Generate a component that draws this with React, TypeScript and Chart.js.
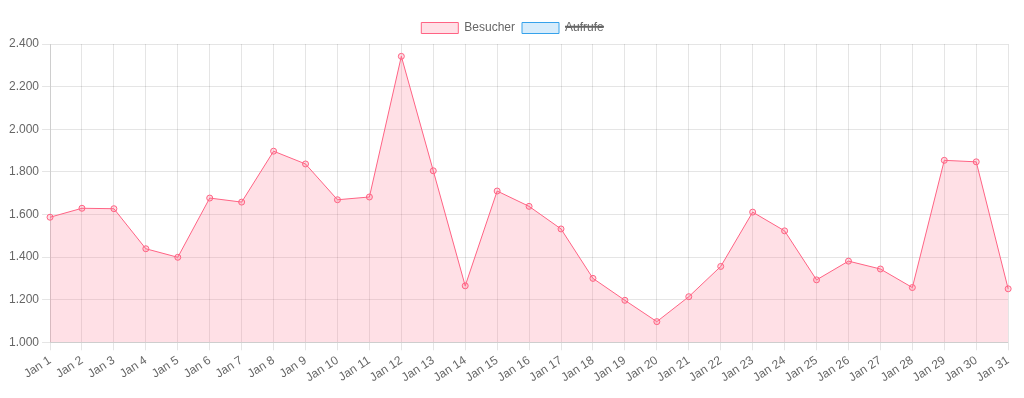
import React, { useEffect, useRef } from "react";
import { Chart, registerables } from "chart.js";

Chart.register(...registerables);

const labels: string[] = [
  "Jan 1", "Jan 2", "Jan 3", "Jan 4", "Jan 5", "Jan 6", "Jan 7", "Jan 8", "Jan 9", "Jan 10",
  "Jan 11", "Jan 12", "Jan 13", "Jan 14", "Jan 15", "Jan 16", "Jan 17", "Jan 18", "Jan 19", "Jan 20",
  "Jan 21", "Jan 22", "Jan 23", "Jan 24", "Jan 25", "Jan 26", "Jan 27", "Jan 28", "Jan 29", "Jan 30", "Jan 31",
];

const besucher: number[] = [
  1587, 1629, 1627, 1439, 1399, 1677, 1658, 1897, 1837, 1669,
  1682, 2342, 1805, 1265, 1710, 1638, 1532, 1300, 1197, 1097,
  1214, 1356, 1611, 1523, 1293, 1381, 1344, 1257, 1854, 1847, 1251,
];

const aufrufe: number[] = [
  3120, 3260, 3180, 2890, 2750, 3310, 3240, 3790, 3620, 3300,
  3350, 4680, 3560, 2510, 3400, 3250, 3040, 2580, 2380, 2170,
  2410, 2690, 3200, 3010, 2560, 2740, 2660, 2490, 3700, 3680, 2480,
];

export default function App() {
  const ref = useRef<HTMLCanvasElement | null>(null);

  useEffect(() => {
    if (!ref.current) return;
    Chart.defaults.font.family = "'Liberation Sans', Arial, Helvetica, sans-serif";
    Chart.defaults.font.size = 12;
    Chart.defaults.color = "#666";
    const chart = new Chart(ref.current, {
      type: "line",
      data: {
        labels,
        datasets: [
          {
            label: "Besucher",
            data: besucher,
            borderColor: "rgb(255, 99, 132)",
            backgroundColor: "rgba(255, 99, 132, 0.2)",
            pointBackgroundColor: "rgba(255, 99, 132, 0.2)",
            pointBorderColor: "rgb(255, 99, 132)",
            borderWidth: 1,
            pointRadius: 3,
            fill: true,
            tension: 0,
          },
          {
            label: "Aufrufe",
            data: aufrufe,
            borderColor: "rgb(54, 162, 235)",
            backgroundColor: "rgba(54, 162, 235, 0.2)",
            borderWidth: 1,
            pointRadius: 3,
            fill: true,
            tension: 0,
            hidden: true,
          },
        ],
      },
      options: {
        animation: false,
        responsive: true,
        maintainAspectRatio: false,
        locale: "de-DE",
        layout: { padding: { top: 7 } },
        plugins: {
          legend: {
            position: "top",
            labels: { boxWidth: 37, boxHeight: 11, padding: 7, font: { size: 12 } },
          },
          tooltip: { enabled: false },
        },
        scales: {
          x: {
            grid: { color: "rgba(0,0,0,0.1)" },
            ticks: { maxRotation: 33, minRotation: 33 },
          },
          y: {
            grid: { color: "rgba(0,0,0,0.1)" },
            ticks: { stepSize: 200 },
          },
        },
      },
    });
    return () => chart.destroy();
  }, []);

  return (
    <div style={{ position: "relative", width: "1013px", marginLeft: "-2px", height: "380px" }}>
      <canvas ref={ref} />
    </div>
  );
}
